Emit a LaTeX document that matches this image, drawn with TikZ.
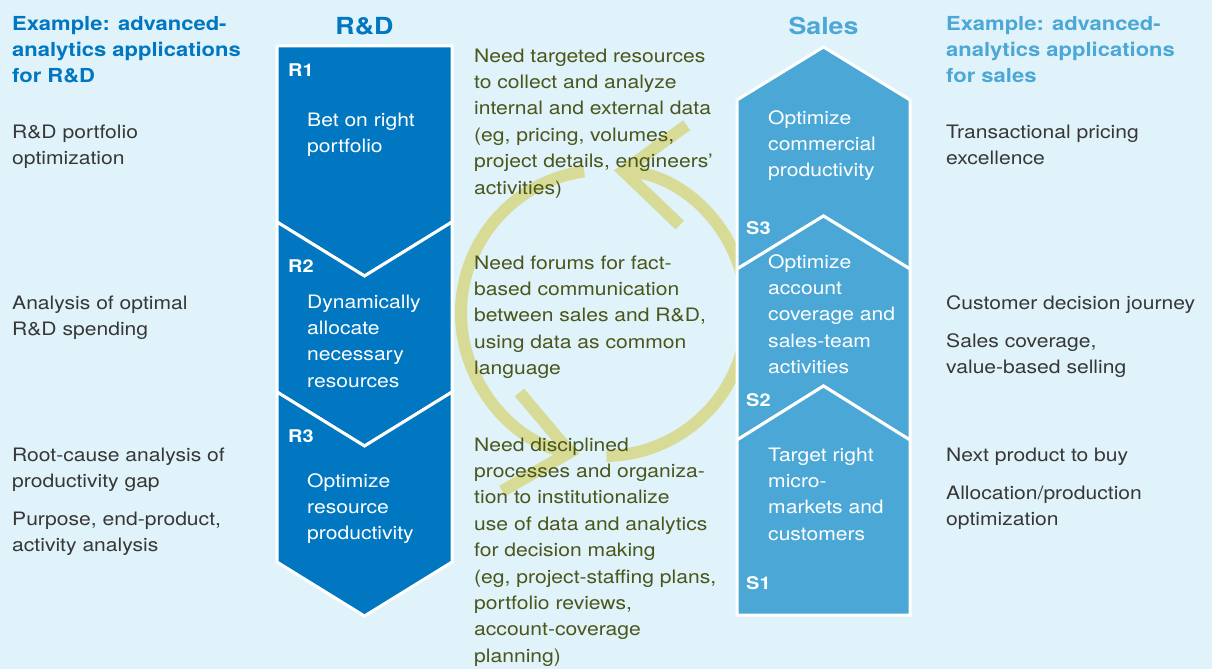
\documentclass[tikz,border=0pt]{standalone}
\usepackage{fontspec}
\setmainfont{TeX Gyre Heros}[FakeStretch=1.14]
\usetikzlibrary{arrows.meta}

\definecolor{bgblue}{RGB}{224,242,250}
\definecolor{rdblue}{RGB}{0,119,192}
\definecolor{salesblue}{RGB}{75,168,214}
\definecolor{olivetext}{RGB}{74,86,26}
\definecolor{cyclegreen}{RGB}{215,219,150}
\definecolor{sidegray}{RGB}{55,55,55}

\newcommand{\bodyfont}{\fontsize{18.5}{26.4}\selectfont}
\newcommand{\headfont}{\fontsize{19.3}{26}\selectfont\bfseries}

\begin{document}
\begin{tikzpicture}[x=1pt,y=-1pt,
    every node/.style={inner sep=0pt,anchor=base west,align=left},
    side/.style={font=\bodyfont,text=sidegray},
    head/.style={font=\headfont},
    mid/.style={font=\bodyfont,text=olivetext},
    inbox/.style={font=\bodyfont,text=white},
    tag/.style={font=\fontsize{17.5}{20}\selectfont\bfseries,text=white},
    title/.style={font=\fontsize{23.5}{28}\selectfont\bfseries,anchor=base},
    rdpiece/.style={fill=rdblue,draw=white,line width=3pt},
    salespiece/.style={fill=salesblue,draw=white,line width=3pt},
    cycle/.style={draw=cyclegreen,line width=12pt,-{Straight Barb[length=60pt,width=100pt]}}]
    \fill[bgblue] (0,0) rectangle (1212,669);
    \useasboundingbox (0,0) rectangle (1212,669);

    % the cycle behind the middle column
    % (multi-line nodes sit on the baseline of their last line)
    \coordinate (hub) at (604,313);
    \draw[cycle] ([shift={(89:143)}]hub) arc[start angle=89,end angle=-86,radius=143];
    \draw[cycle] ([shift={(-98:143)}]hub) arc[start angle=-98,end angle=-260,radius=143];

    \node[mid] (needdata) at (474,194) {Need targeted resources\\to collect and analyze\\internal and external data\\(eg, pricing, volumes,\\project details, engineers'\\activities)};
    \node[mid] (needforums) at (474,374.6) {Need forums for fact-\\based communication\\between sales and R\&D,\\using data as common\\language};
    \node[mid] (needprocess) at (474,662.2) {Need disciplined\\processes and organiza-\\tion to institutionalize\\use of data and analytics\\for decision making\\(eg, project-staffing plans,\\portfolio reviews,\\account-coverage\\planning)};

    % R&D column
    \path[rdpiece] (277,46) -- (452,46) -- (452,222) -- (364.5,276) -- (277,222) -- cycle;
    \foreach \ytop/\ybot in {222/392,392/562}
        \path[rdpiece] (277,\ytop) -- (364.5,\ytop+54) -- (452,\ytop) -- (452,\ybot) -- (364.5,\ybot+54) -- (277,\ybot) -- cycle;

    % Sales column
    \path[salespiece] (737,100) -- (823.5,47) -- (910,100) -- (910,269) -- (823.5,216) -- (737,269) -- cycle;
    \path[salespiece] (737,269) -- (823.5,216) -- (910,269) -- (910,440) -- (823.5,386) -- (737,440) -- cycle;
    \path[salespiece] (737,440) -- (823.5,386) -- (910,440) -- (910,615) -- (737,615) -- cycle;

    \node[title,text=rdblue] (rdtitle) at (364.5,35) {R\&D};
    \node[title,text=salesblue] (salestitle) at (823.5,35) {Sales};

    \node[tag] (rtag1) at (288,76) {R1};
    \node[tag] (rtag2) at (288,272) {R2};
    \node[tag] (rtag3) at (288,442) {R3};
    \node[tag] (stag3) at (746,234) {S3};
    \node[tag] (stag2) at (746,406) {S2};
    \node[tag] (stag1) at (746,589) {S1};

    \node[inbox] (rone) at (307,152.4) {Bet on right\\portfolio};
    \node[inbox] (rtwo) at (307,387.2) {Dynamically\\allocate\\necessary\\resources};
    \node[inbox] (rthree) at (307,539.8) {Optimize\\resource\\productivity};
    \node[inbox] (sthree) at (768,176.8) {Optimize\\commercial\\productivity};
    \node[inbox] (stwo) at (768,373.6) {Optimize\\account\\coverage and\\sales-team\\activities};
    \node[inbox] (sone) at (768,540.2) {Target right\\micro-\\markets and\\customers};

    % example applications, left and right
    \node[head,text=rdblue] (rdexample) at (12,82) {Example: advanced-\\analytics applications\\for R\&D};
    \node[side] (rdapp1) at (12,164.4) {R\&D portfolio\\optimization};
    \node[side] (rdapp2) at (12,335.4) {Analysis of optimal\\R\&D spending};
    \node[side] (rdapp3) at (12,487.4) {Root-cause analysis of\\productivity gap};
    \node[side] (rdapp4) at (12,551.4) {Purpose, end-product,\\activity analysis};

    \node[head,text=salesblue] (salesexample) at (946,82) {Example: advanced-\\analytics applications\\for sales};
    \node[side] (salesapp1) at (946,164.4) {Transactional pricing\\excellence};
    \node[side] (salesapp2) at (946,309) {Customer decision journey};
    \node[side] (salesapp3) at (946,373.4) {Sales coverage,\\value-based selling};
    \node[side] (salesapp4) at (946,461) {Next product to buy};
    \node[side] (salesapp5) at (946,525.4) {Allocation/production\\optimization};
\end{tikzpicture}
\end{document}
